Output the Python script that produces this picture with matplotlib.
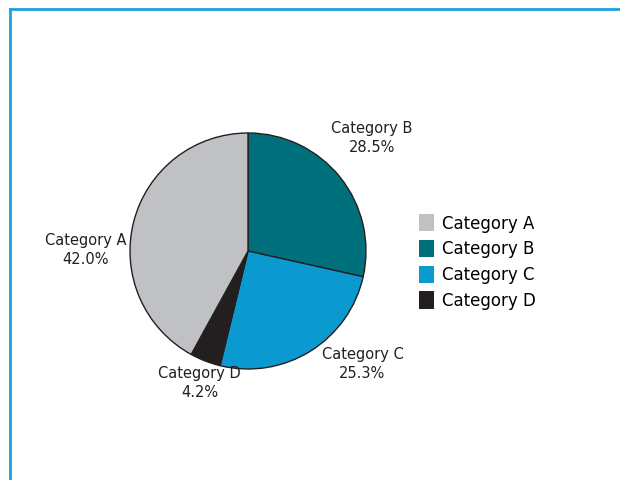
import matplotlib
matplotlib.use("Agg")
import matplotlib.pyplot as plt
from matplotlib.patches import Patch
from matplotlib.lines import Line2D

# ---- data ----
categories = ["Category A", "Category B", "Category C", "Category D"]
values = [42.0, 28.5, 25.3, 4.2]          # gray, teal, blue, dark
colors = ["#c0c1c5", "#00707c", "#0b9ad0", "#231f20"]
# pie drawn clockwise starting at 12 o'clock: teal, blue, dark, gray
order = [1, 2, 3, 0]

fig = plt.figure(figsize=(6.2, 4.8), dpi=100)
fig.patch.set_facecolor("white")

# frame lines (top and left) in blue
fig.add_artist(Line2D([10/620, 1.0], [1 - 9/480, 1 - 9/480], transform=fig.transFigure,
                      color="#1aa3d9", lw=2))
fig.add_artist(Line2D([10/620, 10/620], [0, 1 - 9/480], transform=fig.transFigure,
                      color="#1aa3d9", lw=2))

ax = fig.add_axes([130/620, (480 - 369)/480, 236/620, 236/480])
ax.set_aspect("equal")
ax.axis("off")

pvals = [values[i] for i in order]
pcols = [colors[i] for i in order]
wedges, _ = ax.pie(pvals, colors=pcols, startangle=90, counterclock=False,
                   wedgeprops=dict(edgecolor="#231f20", linewidth=1.0))
ax.set_xlim(-1, 1)
ax.set_ylim(-1, 1)

# label positions (axes-data units, relative to pie radius) and alignment
label_pos = {0: (-1.03, 0.01, "right"), 1: (1.05, 0.96, "center"),
             2: (0.97, -0.96, "center"), 3: (-0.41, -1.12, "center")}
for i in range(len(values)):
    x, y, ha = label_pos[i]
    ax.text(x, y, f"{categories[i]}\n{values[i]:.1f}%", ha=ha, va="center",
            fontsize=10.5, color="#231f20", clip_on=False, linespacing=1.3,
            multialignment="center")

handles = [Patch(facecolor=c, edgecolor="none") for c in colors]
fig.legend(handles, categories, loc="center left", bbox_to_anchor=(412/620, 1 - 262/480),
           frameon=False, fontsize=12, handlelength=0.9, handleheight=1.2,
           handletextpad=0.5, labelspacing=0.45, borderaxespad=0)

fig.savefig("out.png", dpi=100, facecolor="white")
